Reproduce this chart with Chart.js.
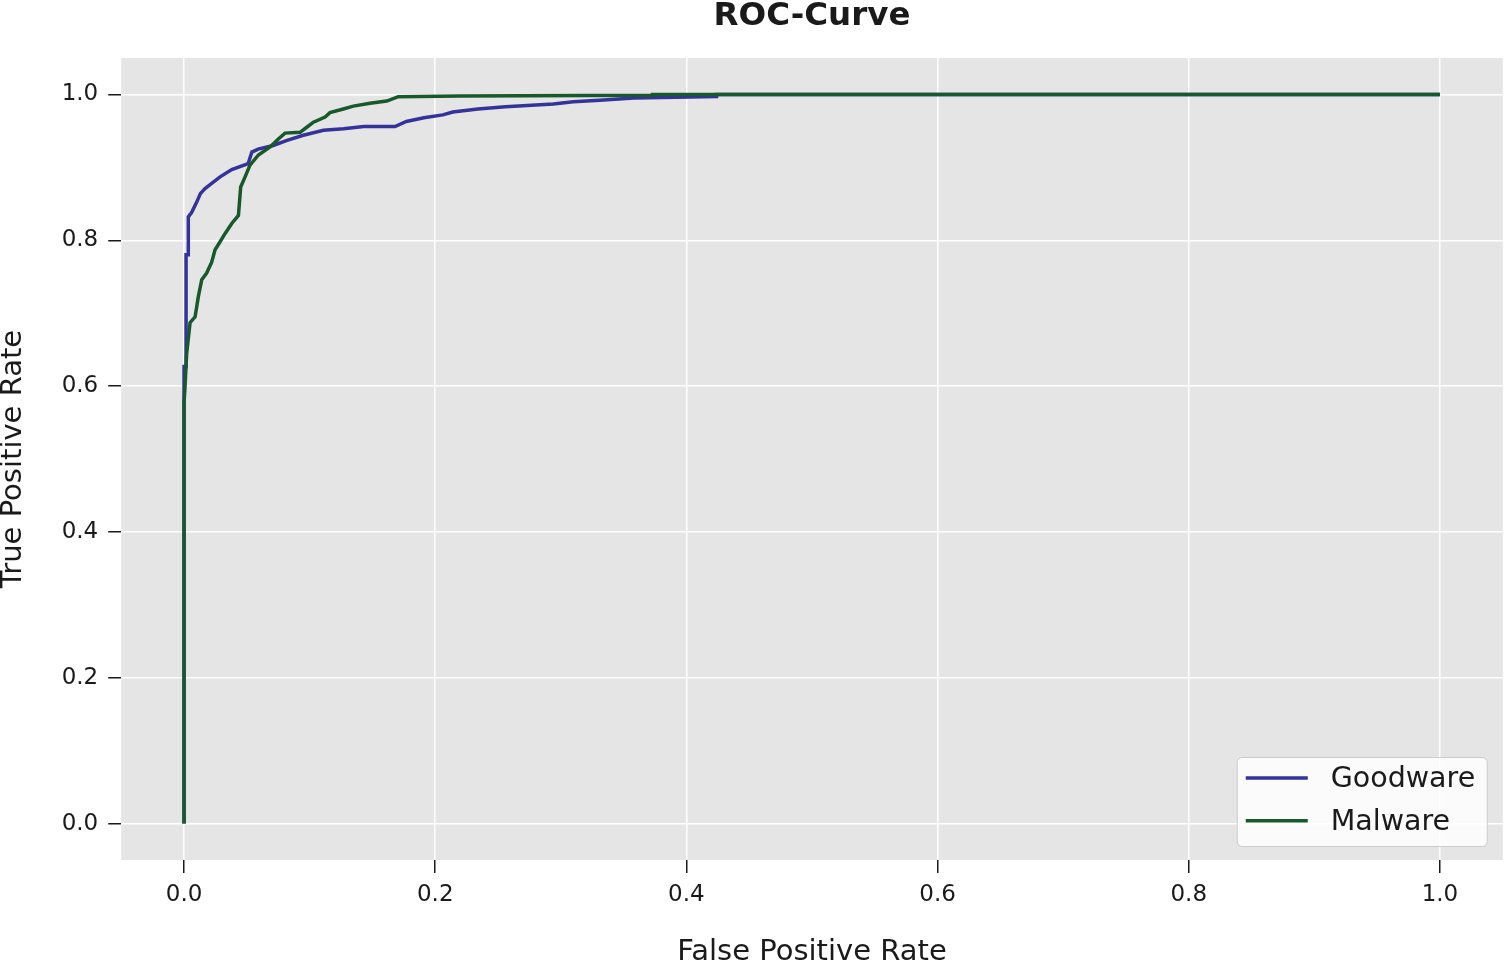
<!DOCTYPE html>
<html>
<head>
<meta charset="utf-8">
<title>ROC-Curve</title>
<script src="https://cdn.jsdelivr.net/npm/chart.js@4/dist/chart.umd.min.js"></script>
<style>
  html, body { margin: 0; padding: 0; background: #fff; }
  #wrap { width: 1505px; height: 964px; }
</style>
</head>
<body>
<div id="wrap"><canvas id="roc" width="1505" height="964"></canvas></div>
<script>
// tick labels
const xTicks = [0, 0.2, 0.4, 0.6, 0.8, 1.0];
const yTicks = [0, 0.2, 0.4, 0.6, 0.8, 1.0];

// Goodware ROC points
const goodFpr = [0, 0, 0.0016, 0.0016, 0.0034, 0.0034, 0.006, 0.010, 0.013, 0.0167, 0.022, 0.0287, 0.038, 0.051, 0.054, 0.059, 0.071, 0.082, 0.095, 0.111, 0.127, 0.143, 0.168, 0.177, 0.191, 0.206, 0.214, 0.234, 0.256, 0.294, 0.310, 0.331, 0.358, 0.424, 0.424, 1.0];
const goodTpr = [0, 0.627, 0.627, 0.78, 0.78, 0.832, 0.838, 0.852, 0.864, 0.871, 0.878, 0.887, 0.897, 0.905, 0.921, 0.925, 0.930, 0.937, 0.944, 0.951, 0.953, 0.956, 0.956, 0.963, 0.968, 0.972, 0.976, 0.980, 0.983, 0.987, 0.990, 0.992, 0.995, 0.997, 1.0, 1.0];

// Malware ROC points
const malFpr = [0, 0, 0.0008, 0.0021, 0.0048, 0.0088, 0.0114, 0.0141, 0.0180, 0.0220, 0.0247, 0.0287, 0.0326, 0.0380, 0.0433, 0.0451, 0.0486, 0.0525, 0.0592, 0.0685, 0.0751, 0.0804, 0.0924, 0.0977, 0.1030, 0.1123, 0.1162, 0.1268, 0.1348, 0.1481, 0.1614, 0.1706, 0.2197, 0.373, 0.373, 1.0];
const malTpr = [0, 0.577, 0.60, 0.645, 0.687, 0.695, 0.723, 0.746, 0.755, 0.770, 0.787, 0.798, 0.809, 0.823, 0.834, 0.873, 0.887, 0.903, 0.917, 0.928, 0.939, 0.947, 0.948, 0.955, 0.962, 0.969, 0.975, 0.980, 0.984, 0.988, 0.991, 0.997, 0.998, 0.999, 1.0, 1.0];

const seriesNames = ["Goodware", "Malware"];
const seriesColors = ["#33339a", "#17592b"];

const toPoints = (xs, ys) => xs.map((x, i) => ({ x: x, y: ys[i] }));

const FONT = "'DejaVu Sans', sans-serif";
const INK = "#1a1a1a";

// grey panel behind the plot
const panelBg = {
  id: "panelBg",
  beforeDraw(chart) {
    const { ctx, chartArea: a } = chart;
    ctx.save();
    ctx.fillStyle = "#e5e5e5";
    ctx.fillRect(a.left, a.top, a.right - a.left, a.bottom - a.top);
    ctx.restore();
  }
};

// matplotlib-like legend box in lower right corner
const cornerLegend = {
  id: "cornerLegend",
  afterDraw(chart) {
    const { ctx, chartArea: a } = chart;
    const w = 250, h = 89;
    const x = a.right - 16 - w;
    const y = a.bottom - 14 - h;
    ctx.save();
    ctx.fillStyle = "rgba(255,255,255,0.85)";
    ctx.strokeStyle = "#cccccc";
    ctx.lineWidth = 1;
    ctx.beginPath();
    ctx.roundRect(x + 0.5, y + 0.5, w, h, 5);
    ctx.fill();
    ctx.stroke();
    ctx.font = "28.5px " + FONT;
    ctx.textBaseline = "middle";
    ctx.fillStyle = INK;
    chart.data.datasets.forEach((ds, i) => {
      const ly = y + 21 + i * 42.7;
      ctx.strokeStyle = ds.borderColor;
      ctx.lineWidth = 3.5;
      ctx.beginPath();
      ctx.moveTo(x + 9, ly);
      ctx.lineTo(x + 71, ly);
      ctx.stroke();
      ctx.fillText(ds.label, x + 94, ly + 2);
    });
    ctx.restore();
  }
};

const ctx = document.getElementById("roc").getContext("2d");
new Chart(ctx, {
  type: "line",
  data: {
    datasets: [
      {
        label: seriesNames[0],
        data: toPoints(goodFpr, goodTpr),
        borderColor: seriesColors[0],
        backgroundColor: seriesColors[0],
        borderWidth: 3.5,
        pointRadius: 0,
        tension: 0,
        order: 1
      },
      {
        label: seriesNames[1],
        data: toPoints(malFpr, malTpr),
        borderColor: seriesColors[1],
        backgroundColor: seriesColors[1],
        borderWidth: 3.5,
        pointRadius: 0,
        tension: 0,
        order: 0
      }
    ]
  },
  options: {
    responsive: false,
    animation: false,
    layout: { padding: { left: 0, right: 2.25, top: 0, bottom: 0 } },
    plugins: {
      legend: { display: false },
      tooltip: { enabled: false },
      title: {
        display: true,
        text: "ROC-Curve",
        fullSize: false,
        color: INK,
        font: { family: FONT, size: 32.5, weight: "bold", lineHeight: 1 },
        padding: { top: 0, bottom: 25.5 }
      }
    },
    scales: {
      x: {
        type: "linear",
        min: -0.05,
        max: 1.05,
        afterBuildTicks: (s) => { s.ticks = xTicks.map(v => ({ value: v })); },
        afterFit: (s) => { s.height = 104; },
        ticks: {
          color: INK,
          font: { family: FONT, size: 23 },
          padding: 8,
          maxRotation: 0,
          callback: (v) => v.toFixed(1)
        },
        grid: { color: "#ffffff", lineWidth: 1.5, tickColor: INK, tickLength: 13, tickWidth: 1.5 },
        border: { display: false },
        title: {
          display: true,
          text: "False Positive Rate",
          color: INK,
          font: { family: FONT, size: 29, lineHeight: 1 },
          padding: { top: 0, bottom: -3 }
        }
      },
      y: {
        type: "linear",
        min: -0.05,
        max: 1.05,
        afterBuildTicks: (s) => { s.ticks = yTicks.map(v => ({ value: v })); },
        afterFit: (s) => { s.width = 121.25; },
        ticks: {
          color: INK,
          font: { family: FONT, size: 23 },
          padding: 10,
          callback: (v) => v.toFixed(1)
        },
        grid: { color: "#ffffff", lineWidth: 1.5, tickColor: INK, tickLength: 13, tickWidth: 1.5 },
        border: { display: false },
        title: {
          display: true,
          text: "True Positive Rate",
          color: INK,
          font: { family: FONT, size: 29, lineHeight: 1 },
          padding: { top: -1, bottom: 0 }
        }
      }
    }
  },
  plugins: [panelBg, cornerLegend]
});
</script>
</body>
</html>
